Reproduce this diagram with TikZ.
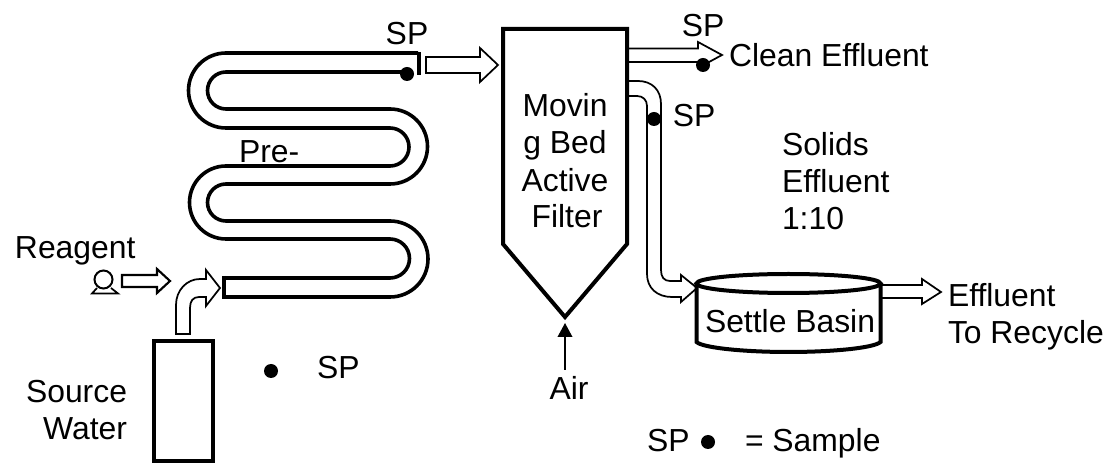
\documentclass[tikz,border=0pt]{standalone}
\usepackage{fontspec}
\setmainfont{Liberation Sans}
\usetikzlibrary{arrows.meta}
\tikzset{
  lbl/.style={anchor=base west,inner sep=0pt,outer sep=0pt,font=\fontsize{23.9}{28}\selectfont},
  lblc/.style={lbl,anchor=base},
  lble/.style={lbl,anchor=base east},
  tube/.style={line width=2.7pt,line cap=butt},
  heavy/.style={line width=3pt,line join=miter},
  block/.style={line width=1.3pt,line join=miter},
  blockthick/.style={line width=1.6pt,line join=miter},
  sdot/.style={circle,fill=black,inner sep=0pt,minimum size=10.5pt},
}
\begin{document}
\begin{tikzpicture}[x=0.75pt,y=-0.75pt]
\useasboundingbox (0,0) rectangle (1111,466);
% serpentine pre-reactor
\draw[tube] (418,53) -- (226,53) arc[start angle=270,end angle=90,radius=37.5] -- (390,128)
  arc[start angle=-90,end angle=90,radius=19] -- (226,166)
  arc[start angle=270,end angle=90,radius=36.5] -- (390,239)
  arc[start angle=-90,end angle=90,radius=19.5] -- (224,278);
\draw[tube] (405,72) -- (226,72) arc[start angle=270,end angle=90,radius=18.5] -- (390,109)
  arc[start angle=-90,end angle=90,radius=37.5] -- (226,184)
  arc[start angle=270,end angle=90,radius=18.5] -- (390,221)
  arc[start angle=-90,end angle=90,radius=38] -- (224,297);
\draw[heavy] (418.5,52) -- (418.5,75.5);
\draw[heavy] (224,276) -- (224,299);
% arrow to filter
\draw[block] (426,57) -- (480,57) -- (480,48) -- (498,65) -- (480,82) -- (480,73) -- (426,73) -- cycle;
% filter
\draw[heavy] (503,29) -- (627,29) -- (627,244) -- (565,317) -- (503,244) -- cycle;
% clean effluent arrow
\draw[block] (627,48.5) -- (698,48.5) -- (698,42) -- (722,55) -- (698,68) -- (698,62) -- (627,62);
% solids arrow
\draw[block] (627,81) -- (638,81) .. controls (652,81) and (661,90) .. (661,104) -- (661,270)
  .. controls (661,277) and (664,281) .. (670,281) -- (681,281) -- (681,275) -- (697,288) -- (681,302) -- (681,297)
  -- (672,297) .. controls (657,297) and (647,288) .. (647,274) -- (647,106)
  .. controls (647,100) and (643,96) .. (637,96) -- (627,96);
% effluent arrow
\draw[block] (881,285) -- (922,285) -- (922,279) -- (941,292) -- (922,304) -- (922,298) -- (881,298);
% basin
\draw[heavy,fill=white] (696.5,283.5) -- (696.5,342) .. controls (703,348) and (745,352) .. (788.5,352)
  .. controls (832,352) and (874,348) .. (880.5,342) -- (880.5,283.5);
\draw[heavy,fill=white] (788.5,283.5) ellipse [x radius=92,y radius=9.5];
% source tank
\draw[heavy] (154,341) rectangle (213,461);
% source arrow
\draw[block] (176,334) -- (176,305) .. controls (176,290) and (187,279) .. (200,279) -- (206,279) -- (206,270)
  -- (220,288) -- (206,306) -- (206,297) -- (199,297) .. controls (193,297) and (190,301) .. (190,308) -- (190,334) -- cycle;
% reagent arrow
\draw[blockthick] (122,275) -- (157,275) -- (157,269) -- (170,281) -- (157,293) -- (157,287) -- (122,287) -- cycle;
% pump
\draw[line width=1.5pt] (103.5,279.5) circle [radius=9];
\draw[line width=1.3pt] (97,288) -- (92,293.5) -- (118,293.5) -- (111,288);
% air
\coordinate (airstart) at (565,370);
\coordinate (filtertip) at (565,323);
\draw[line width=1.1pt,-{Triangle[length=10.5pt,width=11pt]}] (airstart) -- (filtertip);
% sample dots
\node[sdot] (d1) at (407,74) {};
\node[sdot] (d2) at (703,65) {};
\node[sdot] (d3) at (654,119) {};
\node[sdot] (d4) at (271,371) {};
\node[sdot] (d5) at (708,442) {};
% text
\node[lblc] (t1) at (407,45) {SP};
\node[lbl] (t2) at (239,163) {Pre-};
\node[lbl] (t3) at (15,259) {Reagent};
\node[lble] (t4) at (127,403) {Source};
\node[lble] (t5) at (127,440) {Water};
\node[lbl] (t6) at (317,379) {SP};
\node[lblc] (t7) at (565,117) {Movin};
\node[lblc] (t8) at (565,154) {g Bed};
\node[lblc] (t9) at (565,192) {Active};
\node[lblc] (t10) at (567,228) {Filter};
\node[lblc] (t11) at (703,37) {SP};
\node[lbl] (t12) at (729,67) {Clean Effluent};
\node[lblc] (t13) at (694,127) {SP};
\node[lbl] (t14) at (782,156) {Solids};
\node[lbl] (t15) at (782,193) {Effluent};
\node[lbl] (t16) at (782,230) {1:10};
\node[lbl] (t17) at (705,333) {Settle Basin};
\node[lbl] (t18) at (948,307) {Effluent};
\node[lbl] (t19) at (948,344) {To Recycle};
\node[lblc] (t20) at (569,400) {Air};
\node[lbl] (t21) at (647,452) {SP};
\node[lbl] (t22) at (745,452) {= Sample};
\end{tikzpicture}
\end{document}
